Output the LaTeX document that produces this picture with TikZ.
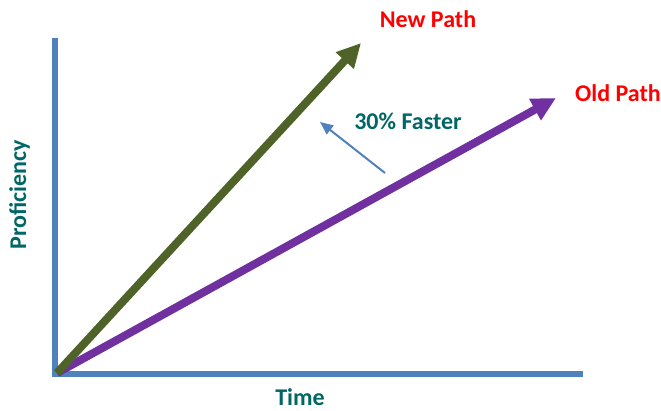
\documentclass[tikz,border=0pt]{standalone}
\usepackage{fontspec}
\setmainfont{Carlito}
\usetikzlibrary{arrows.meta}
\definecolor{axisblue}{RGB}{79,129,189}
\definecolor{newgreen}{RGB}{79,98,40}
\definecolor{oldpurple}{RGB}{112,48,160}
\definecolor{labelred}{RGB}{255,0,0}
\definecolor{tealtext}{RGB}{0,102,102}
\tikzset{
  axisline/.style={draw=axisblue, line width=6pt},
  bigarrow/.style={line width=8pt, -{Triangle[length=24pt,width=23pt]}},
  pathlabel/.style={text=labelred, font=\fontsize{24}{28}\selectfont\bfseries, anchor=base, inner sep=0pt},
  axislabel/.style={text=tealtext, font=\fontsize{24}{28}\selectfont\bfseries, anchor=base, inner sep=0pt},
}
\begin{document}
\begin{tikzpicture}[x=1pt,y=-1pt]
\useasboundingbox (0,0) rectangle (661,411);
% coordinates
\coordinate (ytop) at (55,38);
\coordinate (ybot) at (55,377);
\coordinate (xstart) at (52,374);
\coordinate (xend) at (583,374);
\coordinate (O) at (57,373);
\coordinate (newtip) at (361,43);
\coordinate (oldtip) at (556,98);
\coordinate (fs) at (385,173);
\coordinate (fe) at (320,122);
% axes
\draw[axisline] (ytop) -- (ybot);
\draw[axisline] (xstart) -- (xend);
% paths
\draw[bigarrow, draw=oldpurple, fill=oldpurple] (O) -- (oldtip);
\draw[bigarrow, draw=newgreen, fill=newgreen] (O) -- (newtip);
% faster arrow
\draw[draw=axisblue, fill=axisblue, line width=2pt, -{Triangle[length=13pt,width=11pt]}] (fs) -- (fe);
% labels
\node[pathlabel] (newlabel) at (428,28) {New Path};
\node[pathlabel] (oldlabel) at (618,102) {Old Path};
\node[axislabel] (faster) at (408,130) {30\% Faster};
\node[axislabel] (time) at (300,405) {Time};
\node[axislabel, rotate=90] (prof) at (26,195) {Proficiency};
\end{tikzpicture}
\end{document}
